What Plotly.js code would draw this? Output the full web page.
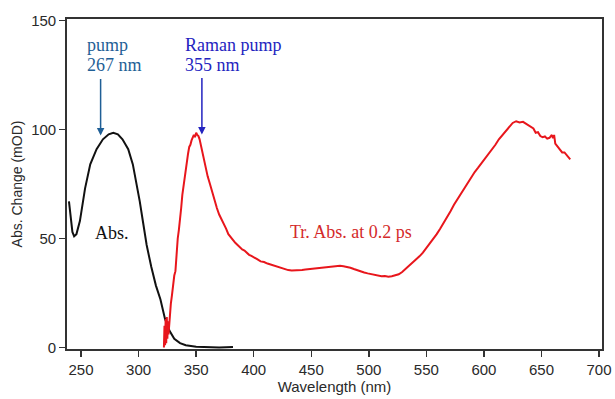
<!DOCTYPE html>
<html>
<head>
<meta charset="utf-8">
<script src="https://cdn.plot.ly/plotly-3.0.1.min.js"></script>
<style>html,body{margin:0;padding:0;background:#fff;}#chart{width:615px;height:399px;}</style>
</head>
<body>
<div id="chart"></div>
<script>
// Ground-state absorption (black)
const absWl  = [239.5,241,242.5,244,246,249,253.5,258,263.5,269,274,278,282,286,291,295,298,301,304,307,311,315,319,323,327,331,336,341,350,360,370,382];
const absVal = [67,60,53,51,52,58,73,84,91,95.5,97.8,98.5,97.8,95.5,91,84,76,67,57,47,37,28.5,22,13,7.5,4,2,1,0.3,0,0,0.2];

// Transient absorption at 0.2 ps (red)
const trWl  = [322,322.5,323,323.5,324,324.5,325,325.5,326,327,328,329,330,331,332,333,334,335,336,337,338,339,340,341,342,343,344,345,346,347,348,349,350,351,352,353,354,355,356,357,358,359,360,362,364,366,368,370,372,374,376,378,380,382,384,386,388,390,392,394,396,398,400,403,406,409,412,415,418,421,424,427,430,433,436,439,442,445,448,451,454,457,460,463,466,469,472,475,478,481,484,487,490,493,496,499,502,505,508,511,514,517,520,523,526,529,532,535,538,541,544,547,550,553,556,559,562,565,568,571,574,577,580,583,586,589,592,595,598,601,604,607,610,613,616,619,622,625,628,631,634,637,640,643,645,647,649,651,653,655,657,659,660,661,662,664,666,668,670,672,674,675];
const trVal = [0,10,1,13,2,14,4,12,6,15,20,24,29,33,35,44,50,54,58,64,70,74,78,83,86,89,92,93,95,96,97.5,96.5,98.5,97.5,97,95.5,93,91,89,86,83,81,78.5,75,71,67,64,61,59,56.5,54.5,52,50.5,49.5,48,47,46,45,44.5,43.5,42.5,42,41.5,40.5,39.5,39.2,38.5,38,37.2,36.8,36.5,36,35.5,35.3,35.4,35.2,35.6,35.8,36,36.1,36.3,36.5,36.6,37,37.2,37.4,37.3,37.5,37.3,37,36.6,36,35.4,34.8,34.4,34,33.6,33.2,33,32.7,32.8,32.5,32.7,33,33.6,34.6,36,37.3,38.6,40,41.8,43.5,45.5,47.5,49.5,52,54.5,57,59.5,62.5,65.5,68,71,73.5,76,78.5,80.5,82.5,84.5,86.5,88.5,90.5,93,95.5,97.5,99,101,103,103.8,103.2,103.5,102.5,101.5,100.5,98.5,98.8,97,96.5,96.8,95.8,96.2,97.5,96,97.5,93.5,92,91,89.5,89.5,88,86.5,86.3];

const xTicks = [250,300,350,400,450,500,550,600,650,700];
const yTicks = [0,50,100,150];

const serif = 'Liberation Serif, Times New Roman, serif';
const sans = 'Liberation Sans, Arial, sans-serif';

const traces = [
  {x: absWl, y: absVal, type: 'scatter', mode: 'lines', line: {color: '#111111', width: 2}, hoverinfo: 'skip'},
  {x: trWl, y: trVal, type: 'scatter', mode: 'lines', line: {color: '#e8161c', width: 2}, hoverinfo: 'skip'}
];

const layout = {
  width: 615, height: 399,
  margin: {l: 67, r: 13, t: 19, b: 50},
  paper_bgcolor: '#ffffff', plot_bgcolor: '#ffffff',
  showlegend: false,
  xaxis: {
    range: [237.8, 702.6], tickvals: xTicks, ticktext: xTicks.map(String),
    showline: true, linecolor: '#333333', linewidth: 1.8, mirror: true,
    ticks: 'outside', ticklen: 6, tickwidth: 1.5, tickcolor: '#333333',
    showgrid: false, zeroline: false,
    tickfont: {family: sans, size: 15, color: '#2a2a2a'},
    title: {text: 'Wavelength (nm)', font: {family: sans, size: 15, color: '#2a2a2a'}, standoff: 4}
  },
  yaxis: {
    range: [-0.7, 150.7], tickvals: yTicks, ticktext: yTicks.map(String),
    showline: true, linecolor: '#333333', linewidth: 1.8, mirror: true,
    ticks: 'outside', ticklen: 6, tickwidth: 1.5, tickcolor: '#333333',
    showgrid: false, zeroline: false,
    tickfont: {family: sans, size: 15, color: '#2a2a2a'},
    title: {text: 'Abs. Change (mOD)', font: {family: sans, size: 14, color: '#2a2a2a'}, standoff: 5}
  },
  annotations: [
    {x: 267, y: 97.3, ax: 0, ay: -58, showarrow: true, arrowhead: 2, arrowsize: 1, arrowwidth: 1.5, arrowcolor: '#1f5f96', text: ''},
    {x: 355, y: 97.7, ax: 0, ay: -58, showarrow: true, arrowhead: 2, arrowsize: 1, arrowwidth: 1.5, arrowcolor: '#2424c0', text: ''},
    {x: 253.5, y: 138.6, xanchor: 'left', yanchor: 'middle', showarrow: false, text: 'pump', font: {family: serif, size: 18, color: '#1f5f96'}},
    {x: 253.5, y: 129.5, xanchor: 'left', yanchor: 'middle', showarrow: false, text: '267 nm', font: {family: serif, size: 18, color: '#1f5f96'}},
    {x: 338.4, y: 138.6, xanchor: 'left', yanchor: 'middle', showarrow: false, text: 'Raman pump', font: {family: serif, size: 18, color: '#2424c0'}},
    {x: 338.4, y: 129.5, xanchor: 'left', yanchor: 'middle', showarrow: false, text: '355 nm', font: {family: serif, size: 18, color: '#2424c0'}},
    {x: 260.2, y: 52.5, xanchor: 'left', yanchor: 'middle', showarrow: false, text: 'Abs.', font: {family: serif, size: 18, color: '#111111'}},
    {x: 539.6, y: 53, xanchor: 'right', yanchor: 'middle', showarrow: false, text: 'Tr. Abs. at 0.2 ps', font: {family: serif, size: 18, color: '#d42a2a'}}
  ]
};

Plotly.newPlot('chart', traces, layout, {displayModeBar: false, staticPlot: true});
</script>
</body>
</html>
